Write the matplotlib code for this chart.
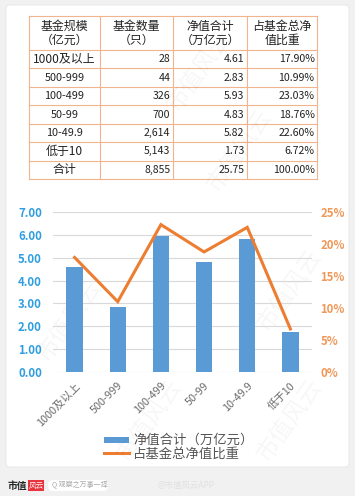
import matplotlib
matplotlib.use("Agg")
import matplotlib.pyplot as plt
from matplotlib.patches import Rectangle, FancyBboxPatch
import numpy as np

plt.rcParams['font.family'] = ['Noto Sans CJK SC', 'DejaVu Sans']

# ---------------- data ----------------
categories = ["1000及以上", "500-999", "100-499", "50-99", "10-49.9", "低于10"]
fund_counts = ["28", "44", "326", "700", "2,614", "5,143"]
net_values = [4.61, 2.83, 5.93, 4.83, 5.82, 1.73]
share_pct = [17.90, 10.99, 23.03, 18.76, 22.60, 6.72]
total_row = ["合计", "8,855", "25.75", "100.00%"]
headers = ["基金规模\n（亿元）", "基金数量\n（只）", "净值合计\n（万亿元）", "占基金总净\n值比重"]
left_ticks = [0, 1, 2, 3, 4, 5, 6, 7]
right_ticks = [0, 5, 10, 15, 20, 25]
legend_labels = ["净值合计（万亿元）", "占基金总净值比重"]

W, H = 355, 496
fig = plt.figure(figsize=(W / 100, H / 100), dpi=100)
fig.patch.set_facecolor("#f1f1f1")

# background / card axes in pixel coords
bg = fig.add_axes([0, 0, 1, 1])
bg.set_xlim(0, W)
bg.set_ylim(H, 0)
bg.axis("off")
bg.add_patch(FancyBboxPatch((6, 5), 343, 462, boxstyle="round,pad=0,rounding_size=4",
                            fc="white", ec="#e6e6e6", lw=0.6, zorder=0))

# ---------------- table ----------------
col_x = [29, 100, 173, 247, 317]
row_y = [16, 50] + [50 + 18.43 * (i + 1) for i in range(7)]
border = "#f2b48c"
for xx in col_x:
    bg.plot([xx, xx], [row_y[0], row_y[-1]], color=border, lw=0.8, zorder=2)
for yy in row_y:
    bg.plot([col_x[0], col_x[-1]], [yy, yy], color=border, lw=0.8, zorder=2)

tc = "#222222"
for j, h in enumerate(headers):
    cx = (col_x[j] + col_x[j + 1]) / 2
    bg.text(cx, (row_y[0] + row_y[1]) / 2 + 0.5, h, ha="center", va="center",
            fontsize=8.6, color=tc, linespacing=1.05, zorder=3)

rows = []
for i in range(len(categories)):
    rows.append([categories[i], fund_counts[i], f"{net_values[i]:.2f}", f"{share_pct[i]:.2f}%"])
rows.append(total_row)
for i, r in enumerate(rows):
    cy = (row_y[i + 1] + row_y[i + 2]) / 2
    fs0 = 8.6 if any(ord(c) > 255 for c in r[0]) else 7.8
    bg.text((col_x[0] + col_x[1]) / 2, cy, r[0], ha="center", va="center",
            fontsize=fs0, color=tc, zorder=3)
    for j in range(1, 4):
        bg.text(col_x[j + 1] - 2.5, cy, r[j], ha="right", va="center",
                fontsize=7.6, color=tc, zorder=3)

# ---------------- chart ----------------
ax = fig.add_axes([53 / W, (H - 372) / H, 259 / W, 160 / H])
ax.set_facecolor("none")
x = np.arange(len(categories))
ax.bar(x, net_values, width=0.38, color="#5b9bd5", zorder=2)
ax.set_xlim(-0.5, len(categories) - 0.5)
ax.set_ylim(0, 7)
ax.set_yticks(left_ticks)
ax.set_yticklabels([f"{v:.2f}" for v in left_ticks])
ax.tick_params(axis="y", length=0, labelsize=8.2, colors="#2f9ee0", pad=8)
for lbl in ax.get_yticklabels():
    lbl.set_fontweight("bold")
ax.grid(axis="y", color="#d9d9d9", lw=0.8, zorder=0)
for s in ax.spines.values():
    s.set_visible(False)
ax.set_xticks(x)
ax.set_xticklabels(categories, rotation=45, ha="right", va="top",
                   rotation_mode="anchor", fontsize=7.8, color="#6b6b6b")
ax.tick_params(axis="x", length=0, pad=6)

ax2 = ax.twinx()
ax2.plot(x, share_pct, color="#ed7d31", lw=2.2, zorder=3, solid_joinstyle="miter")
ax2.set_ylim(0, 25)
ax2.set_yticks(right_ticks)
ax2.set_yticklabels([f"{v}%" for v in right_ticks])
ax2.tick_params(axis="y", length=0, labelsize=8.2, colors="#f0985a", pad=6)
for lbl in ax2.get_yticklabels():
    lbl.set_fontweight("bold")
for s in ax2.spines.values():
    s.set_visible(False)

# legend (manual, in pixel coords)
bg.add_patch(Rectangle((104, 437), 25, 6, fc="#5b9bd5", ec="none", zorder=3))
bg.plot([104, 129], [453, 453], color="#ed7d31", lw=2.2, zorder=3)
bg.text(133, 440, legend_labels[0], ha="left", va="center", fontsize=9.6, color="#555555", zorder=3)
bg.text(133, 454, legend_labels[1], ha="left", va="center", fontsize=9.6, color="#555555", zorder=3)

# watermarks
for (wx, wy) in [(200, 70), (70, 320), (150, 420), (290, 290), (290, 420), (240, 150)]:
    bg.text(wx, wy, "市值风云", fontsize=17, color="#000000", alpha=0.035, rotation=55,
            ha="center", va="center", zorder=4)

# footer
bg.text(8, 486, "市值", fontsize=7, fontweight="bold", color="#222222", ha="left", va="center")
bg.add_patch(Rectangle((28, 480), 16, 11, fc="#e8323c", ec="none"))
bg.text(36, 485.5, "风云", fontsize=5.5, color="white", ha="center", va="center")
bg.add_patch(FancyBboxPatch((48, 480), 60, 11, boxstyle="round,pad=0,rounding_size=5",
                            fc="white", ec="none"))
bg.text(52, 485.5, "Q 观察之万事一择", fontsize=5, color="#aaaaaa", ha="left", va="center")
bg.text(158, 485.5, "@市值风云APP", fontsize=6, color="#e0e0e0", ha="left", va="center")

fig.savefig("out.png", dpi=100, facecolor=fig.get_facecolor())
